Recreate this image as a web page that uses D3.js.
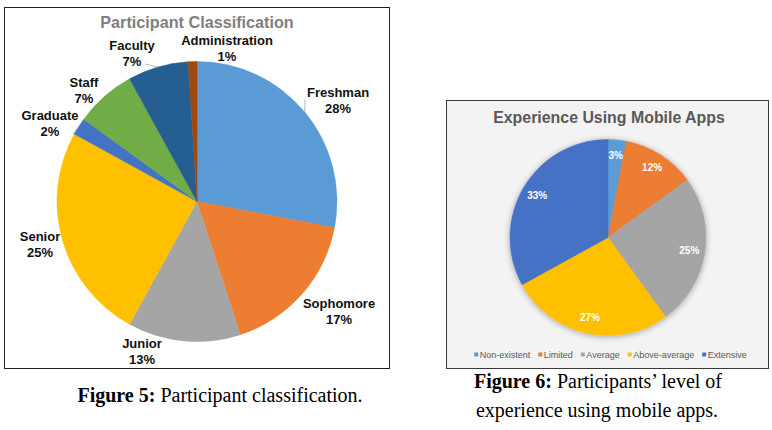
<!DOCTYPE html>
<html>
<head>
<meta charset="utf-8">
<script src="https://cdn.jsdelivr.net/npm/d3@7"></script>
<style>
  html, body { margin: 0; padding: 0; background: #ffffff; }
  svg { display: block; }
</style>
</head>
<body>
<svg id="chart" width="772" height="430"></svg>
<script>
// ---------- DATA ----------
const classCategories = ["Freshman", "Sophomore", "Junior", "Senior", "Graduate", "Staff", "Faculty", "Administration"];
const classValues     = [28, 17, 13, 25, 2, 7, 7, 1];
const classColors     = ["#5B9BD5", "#ED7D31", "#A5A5A5", "#FFC000", "#4472C4", "#70AD47", "#255E91", "#9E480E"];

const expCategories = ["Non-existent", "Limited", "Average", "Above-average", "Extensive"];
const expValues     = [3, 12, 25, 27, 33];
const expColors     = ["#5B9BD5", "#ED7D31", "#A5A5A5", "#FFC000", "#4472C4"];

// label layout for the left pie (offset of the label's first baseline from the pie centre)
const classLabelOffsets = [[141,-104.5],[142,106.5],[-55,146.5],[-157,39.5],[-147,-81.5],[-113,-114.5],[-65,-151.5],[30,-156.5]];
// leader line start offsets (null = no leader)
const classLeaderStarts = [[108,-102],null,null,null,[-124,-67.5],null,[-52,-137.5],null];

const svg = d3.select("#chart");
const defs = svg.append("defs");
const f = defs.append("filter").attr("id","shadow").attr("x","-20%").attr("y","-20%").attr("width","140%").attr("height","140%");
f.append("feGaussianBlur").attr("in","SourceAlpha").attr("stdDeviation",3).attr("result","b");
f.append("feOffset").attr("in","b").attr("dx",0).attr("dy",1).attr("result","o");
f.append("feComponentTransfer").attr("in","o").attr("result","s").append("feFuncA").attr("type","linear").attr("slope",0.35);
const fm = f.append("feMerge");
fm.append("feMergeNode").attr("in","s");
fm.append("feMergeNode").attr("in","SourceGraphic");

const pie = d3.pie().sort(null).value(d => d);

// ---------- LEFT CHART ----------
const L = { x: 4.5, y: 7.5, w: 385, h: 361, cx: 197, cy: 201.5, r: 140 };
svg.append("rect").attr("x", L.x).attr("y", L.y).attr("width", L.w).attr("height", L.h)
  .attr("fill", "#ffffff").attr("stroke", "#222").attr("stroke-width", 1);
svg.append("text").attr("x", 197).attr("y", 27.5).attr("text-anchor","middle")
  .attr("font-family","Liberation Sans, Arial, sans-serif").attr("font-weight","bold")
  .attr("font-size", 16.2).attr("fill","#7f7f7f").text("Participant Classification");

const lg = svg.append("g").attr("transform", `translate(${L.cx},${L.cy})`);
const arcL = d3.arc().innerRadius(0).outerRadius(L.r);
const arcsL = pie(classValues);
lg.selectAll("path").data(arcsL).join("path")
  .attr("d", arcL).attr("fill", (d,i) => classColors[i]).attr("stroke", (d,i) => classColors[i]).attr("stroke-width", 0.5);

// leader lines
arcsL.forEach((d,i) => {
  const s = classLeaderStarts[i];
  if (!s) return;
  const a = (d.startAngle + d.endAngle) / 2;
  lg.append("line").attr("x1", s[0]).attr("y1", s[1])
    .attr("x2", Math.sin(a) * L.r).attr("y2", -Math.cos(a) * L.r)
    .attr("stroke", "#a6a6a6").attr("stroke-width", 0.8);
});

const labL = lg.selectAll("g.lab").data(arcsL).join("g").attr("class","lab")
  .attr("transform", (d,i) => `translate(${classLabelOffsets[i][0]},${classLabelOffsets[i][1]})`);
labL.append("text").attr("text-anchor","middle")
  .attr("font-family","Liberation Sans, Arial, sans-serif").attr("font-weight","bold")
  .attr("font-size", 13).attr("fill","#111")
  .text((d,i) => classCategories[i]);
labL.append("text").attr("text-anchor","middle").attr("y", 15.5)
  .attr("font-family","Liberation Sans, Arial, sans-serif").attr("font-weight","bold")
  .attr("font-size", 13).attr("fill","#111")
  .text((d,i) => classValues[i] + "%");

// caption 5
const cap5 = svg.append("text").attr("x", 220).attr("y", 402).attr("text-anchor","middle")
  .attr("font-family","Liberation Serif, Times New Roman, serif").attr("font-size", 20).attr("fill","#000");
cap5.append("tspan").attr("font-weight","bold").text("Figure 5:");
cap5.append("tspan").text(" Participant classification.");

// ---------- RIGHT CHART ----------
const R = { x: 446.5, y: 100.5, w: 322, h: 268, cx: 608, cy: 237.5, r: 98 };
svg.append("rect").attr("x", R.x).attr("y", R.y).attr("width", R.w).attr("height", R.h)
  .attr("fill", "#f3f3f3").attr("stroke", "#3a3a3a").attr("stroke-width", 1);
svg.append("text").attr("x", 609).attr("y", 122.5).attr("text-anchor","middle")
  .attr("font-family","Liberation Sans, Arial, sans-serif").attr("font-weight","bold")
  .attr("font-size", 15.9).attr("fill","#595959").text("Experience Using Mobile Apps");

const rg = svg.append("g").attr("transform", `translate(${R.cx},${R.cy})`);
const arcR = d3.arc().innerRadius(0).outerRadius(R.r);
const arcsR = pie(expValues);
rg.append("g").attr("filter","url(#shadow)").selectAll("path").data(arcsR).join("path")
  .attr("d", arcR).attr("fill", (d,i) => expColors[i]).attr("stroke", (d,i) => expColors[i]).attr("stroke-width", 0.5);
const arcLab = d3.arc().innerRadius(R.r * 0.84).outerRadius(R.r * 0.84);
rg.selectAll("text.v").data(arcsR).join("text").attr("class","v")
  .attr("transform", d => `translate(${arcLab.centroid(d)})`)
  .attr("text-anchor","middle").attr("dy","0.35em")
  .attr("font-family","Liberation Sans, Arial, sans-serif").attr("font-weight","bold")
  .attr("font-size", 10).attr("fill","#ffffff")
  .text((d,i) => expValues[i] + "%");

// legend
const leg = svg.append("g");
const legFont = 9;
const items = leg.selectAll("g").data(expCategories).join("g");
items.append("rect").attr("width", 4).attr("height", 4).attr("y", -5.5).attr("fill", (d,i) => expColors[i]);
items.append("text").attr("x", 5.5).attr("font-family","Liberation Sans, Arial, sans-serif")
  .attr("font-size", legFont).attr("fill","#595959").text(d => d);
let xpos = 0;
const gap = 8;
items.each(function() {
  const w = d3.select(this).select("text").node().getComputedTextLength() + 5.5;
  d3.select(this).attr("transform", `translate(${xpos},0)`);
  xpos += w + gap;
});
const totalW = xpos - gap;
leg.attr("transform", `translate(${610.5 - totalW/2},358)`);

// caption 6
const cap6 = svg.append("text").attr("x", 598).attr("y", 388).attr("text-anchor","middle")
  .attr("font-family","Liberation Serif, Times New Roman, serif").attr("font-size", 20).attr("fill","#000");
cap6.append("tspan").attr("font-weight","bold").text("Figure 6:");
cap6.append("tspan").text(" Participants\u2019 level of");
svg.append("text").attr("x", 597).attr("y", 417).attr("text-anchor","middle")
  .attr("font-family","Liberation Serif, Times New Roman, serif").attr("font-size", 20).attr("fill","#000")
  .text("experience using mobile apps.");
</script>
</body>
</html>
